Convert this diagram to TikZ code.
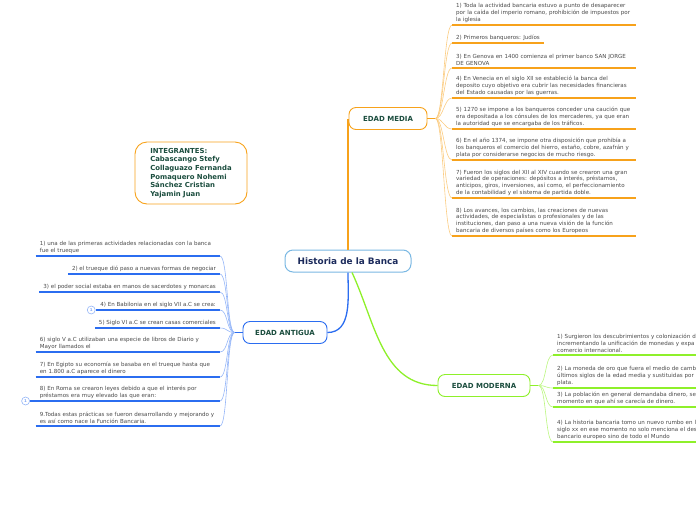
\documentclass[tikz,border=0pt]{standalone}
\usepackage{fontspec}
\setmainfont{DejaVu Sans}
\usetikzlibrary{positioning}
\definecolor{medieval}{HTML}{F7A21B}
\definecolor{ancient}{HTML}{2B6DF0}
\definecolor{modern}{HTML}{8EF02A}
\definecolor{rootline}{HTML}{7AB8E3}
\definecolor{titletext}{HTML}{1C2B5C}
\definecolor{cattext}{HTML}{1B4D3E}
\definecolor{itemtext}{HTML}{4A4A4A}

\begin{document}
\begin{tikzpicture}[x=1pt, y=-1pt,
  root/.style={draw=rootline, line width=1pt, rounded corners=8pt, fill=white,
    minimum width=126pt, minimum height=22pt,
    font=\fontsize{8.9}{10}\selectfont\bfseries, text=titletext},
  era/.style={draw=#1, line width=0.9pt, rounded corners=7pt, fill=white,
    minimum height=22pt, font=\fontsize{7}{8}\selectfont\bfseries, text=cattext},
  item/.style={font=\fontsize{5.55}{6.7}\selectfont, text=itemtext, align=left,
    inner xsep=4pt, inner ysep=2.5pt},
  wide/.style={text width=176pt},
  uline/.style={draw=#1, line width=1.2pt},
  branch/.style={draw=#1, line width=0.6pt},
  fold/.style={circle, draw=ancient!50, line width=0.6pt, fill=white, inner sep=0pt,
    minimum size=8pt, font=\fontsize{4}{4}\selectfont\bfseries, text=ancient!60}
]
  \useasboundingbox (0,0) rectangle (696,520);
  \clip (0,0) rectangle (696,520);

  % Central topic and eras
  \node[root] (root) at (348,261) {Historia de la Banca};
  \node[era=medieval, minimum width=78pt] (media) at (388,118.5) {EDAD MEDIA};
  \node[era=ancient, minimum width=84pt] (antigua) at (285,332.5) {EDAD ANTIGUA};
  \node[era=modern, minimum width=92pt] (moderna) at (484,385.5) {EDAD MODERNA};

  % Team box
  \node[draw=medieval, line width=0.9pt, rounded corners=12pt, minimum width=112pt,
    minimum height=62pt, align=left, text=cattext,
    font=\fontsize{6.9}{8.6}\selectfont\bfseries] (team) at (191,173)
    {INTEGRANTES:\\Cabascango Stefy\\Collaguazo Fernanda\\Pomaquero Nohemi\\S\'anchez Cristian\\Yajamin Juan};

  % Edad Media items
  \node[item, wide, anchor=south west] (m1) at (452,25) {1) Toda la actividad bancaria estuvo a punto de desaparecer\\por la caída del imperio romano, prohibición de impuestos por\\la iglesia};
  \node[item, anchor=south west] (m2) at (452,43) {2) Primeros banqueros: Judíos};
  \node[item, wide, anchor=south west] (m3) at (452,68) {3) En Genova en 1400 comienza el primer banco SAN JORGE\\DE GENOVA};
  \node[item, wide, anchor=south west] (m4) at (452,98) {4) En Venecia en el siglo XII se estableció la banca del\\deposito cuyo objetivo era cubrir las necesidades financieras\\del Estado causadas por las guerras.};
  \node[item, wide, anchor=south west] (m5) at (452,129) {5) 1270 se impone a los banqueros conceder una caución que\\era depositada a los cónsules de los mercaderes, ya que eran\\la autoridad que se encargaba de los tráficos.};
  \node[item, wide, anchor=south west] (m6) at (452,160) {6) En el año 1374, se impone otra disposición que prohibía a\\los banqueros el comercio del hierro, estaño, cobre, azafrán y\\plata por considerarse negocios de mucho riesgo.};
  \node[item, wide, anchor=south west] (m7) at (452,198) {7) Fueron los siglos del XII al XIV cuando se crearon una gran\\variedad de operaciones: depósitos a interés, préstamos,\\anticipos, giros, inversiones, así como, el perfeccionamiento\\de la contabilidad y el sistema de partida doble.};
  \node[item, wide, anchor=south west] (m8) at (452,236) {8) Los avances, los cambios, las creaciones de nuevas\\actividades, de especialistas o profesionales y de las\\instituciones, dan paso a una nueva visión de la función\\bancaria de diversos países como los Europeos};

  % Edad Antigua items
  \node[item, wide, anchor=south east] (a1) at (220,256) {1) una de las primeras actividades relacionadas con la banca\\fue el trueque};
  \node[item, anchor=south east] (a2) at (220,274) {2) el trueque dió paso a nuevas formas de negociar};
  \node[item, anchor=south east] (a3) at (220,292) {3) el poder social estaba en manos de sacerdotes y monarcas};
  \node[item, anchor=south east] (a4) at (220,310) {4) En Babilonia en el siglo VII a.C se crea:};
  \node[item, anchor=south east] (a5) at (220,328) {5) Siglo VI a.C se crean casas comerciales};
  \node[item, wide, anchor=south east] (a6) at (220,352) {6) siglo V a.C utilizaban una especie de libros de Diario y\\Mayor llamados el};
  \node[item, wide, anchor=south east] (a7) at (220,377) {7) En Egipto su economía se basaba en el trueque hasta que\\en 1.800 a.C aparece el dinero};
  \node[item, wide, anchor=south east] (a8) at (220,401) {8) En Roma se crearon leyes debido a que el interés por\\préstamos era muy elevado las que eran:};
  \node[item, wide, anchor=south east] (a9) at (220,426) {9.Todas estas prácticas se fueron desarrollando y mejorando y\\es así como nace la Función Bancaria.};

  % Edad Moderna items (cut by the right edge, as printed)
  \node[item, wide, anchor=south west] (n1) at (553,355) {1) Surgieron los descubrimientos y colonización d\\incrementando la unificación de monedas y expa\\comercio internacional.};
  \node[item, wide, anchor=south west] (n2) at (553,388) {2) La moneda de oro que fuera el medio de camb\\últimos siglos de la edad media y sustituidas por\\plata.};
  \node[item, wide, anchor=south west] (n3) at (553,407) {3) La población en general demandaba dinero, se\\momento en que ahí se carecía de dinero.};
  \node[item, wide, anchor=south west] (n4) at (553,442) {4) La historia bancaria tomo un nuevo rumbo en l\\siglo xx en ese momento no solo menciona el des\\bancario europeo sino de todo el Mundo};

  % Underlines
  \foreach \n in {m1,m2,m3,m4,m5,m6,m7,m8}
    \draw[uline=medieval] (\n.south west) -- (\n.south east);
  \foreach \n in {a1,a2,a3,a4,a5,a6,a7,a8,a9}
    \draw[uline=ancient] (\n.south west) -- (\n.south east);
  \foreach \n in {n1,n2,n3,n4}
    \draw[uline=modern] (\n.south west) -- (\n.south east);

  % Hubs and branches
  \coordinate (mhub) at ([xshift=8pt]media.east);
  \coordinate (ahub) at ([xshift=-8pt]antigua.west);
  \coordinate (nhub) at ([xshift=8pt]moderna.east);
  \draw[medieval, line width=1pt] (media.east) -- (mhub);
  \draw[ancient, line width=1pt] (antigua.west) -- (ahub);
  \draw[modern, line width=1pt] (moderna.east) -- (nhub);
  \foreach \n in {m1,m2,m3,m4,m5,m6,m7,m8}
    \draw[branch=medieval!55] (mhub) .. controls +(8,0) and +(-8,0) .. (\n.south west);
  \foreach \n in {a1,a2,a3,a4,a5,a6,a7,a8,a9}
    \draw[branch=ancient!50] (ahub) .. controls +(-8,0) and +(8,0) .. (\n.south east);
  \foreach \n in {n1,n2,n3,n4}
    \draw[branch=modern!60] (nhub) .. controls +(8,0) and +(-8,0) .. (\n.south west);

  % Main connectors
  \draw[medieval, line width=1.3pt] (root.north) -- (root.north |- media.west);
  \draw[ancient, line width=1.3pt] (root.south) to[out=-90, in=0] (antigua.east);
  \draw[modern, line width=1.3pt] ([xshift=4pt]root.south) to[out=-65, in=180] (moderna.west);

  % Collapsed markers
  \node[fold] (f4) at ([xshift=-5pt]a4.south west) {1};
  \node[fold] (f8) at ([xshift=-10pt]a8.south west) {1};
  \draw[uline=ancient] (f8.east) -- (a8.south west);
\end{tikzpicture}
\end{document}
